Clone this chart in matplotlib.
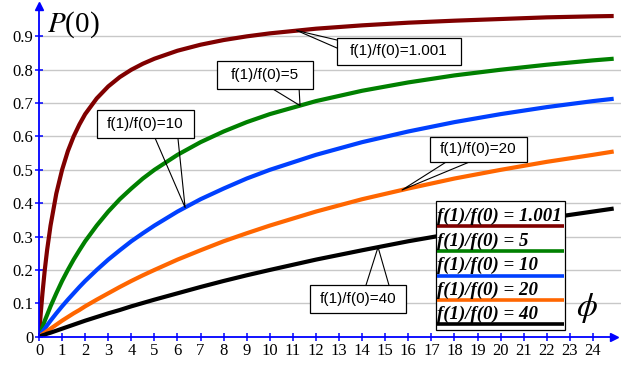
import numpy as np
import matplotlib
matplotlib.use("Agg")
import matplotlib.pyplot as plt
from matplotlib.patches import Rectangle

# ---------------- data ----------------
phi = [0, 0.05, 0.1, 0.15, 0.25, 0.35, 0.5, 0.75, 1, 1.25, 1.5, 1.75, 2, 2.5,
       3, 3.5, 4, 4.5, 5, 6, 7, 8, 9, 10, 12, 14, 16, 18, 20, 22, 24, 24.9]
ratio_labels = ["1.001", "5", "10", "20", "40"]
p_r1001 = [0, 0.048, 0.09, 0.13, 0.2, 0.259, 0.333, 0.429, 0.5, 0.556, 0.6,
           0.636, 0.667, 0.714, 0.75, 0.778, 0.8, 0.818, 0.833, 0.857, 0.875,
           0.889, 0.9, 0.909, 0.923, 0.933, 0.941, 0.947, 0.952, 0.957, 0.96,
           0.961]
p_r5 = [0, 0.01, 0.02, 0.029, 0.048, 0.065, 0.091, 0.13, 0.167, 0.2, 0.231,
        0.259, 0.286, 0.333, 0.375, 0.412, 0.444, 0.474, 0.5, 0.545, 0.583,
        0.615, 0.643, 0.667, 0.706, 0.737, 0.762, 0.783, 0.8, 0.815, 0.828,
        0.833]
p_r10 = [0, 0.005, 0.01, 0.015, 0.024, 0.034, 0.048, 0.07, 0.091, 0.111, 0.13,
         0.149, 0.167, 0.2, 0.231, 0.259, 0.286, 0.31, 0.333, 0.375, 0.412,
         0.444, 0.474, 0.5, 0.545, 0.583, 0.615, 0.643, 0.667, 0.688, 0.706,
         0.713]
p_r20 = [0, 0.0025, 0.005, 0.0075, 0.012, 0.017, 0.024, 0.036, 0.048, 0.059,
         0.07, 0.08, 0.091, 0.111, 0.13, 0.149, 0.167, 0.184, 0.2, 0.231, 0.259,
         0.286, 0.31, 0.333, 0.375, 0.412, 0.444, 0.474, 0.5, 0.524, 0.545,
         0.555]
p_r40 = [0, 0.001, 0.0025, 0.004, 0.006, 0.009, 0.012, 0.018, 0.024, 0.03,
         0.036, 0.042, 0.048, 0.059, 0.07, 0.08, 0.091, 0.101, 0.111, 0.13,
         0.149, 0.167, 0.184, 0.2, 0.231, 0.259, 0.286, 0.31, 0.333, 0.355,
         0.375, 0.384]
series = [p_r1001, p_r5, p_r10, p_r20, p_r40]
colors = ["#800000", "#008000", "#0040ff", "#ff6600", "#000000"]

x_ticks = list(range(0, 25))
y_ticks = [0, 0.1, 0.2, 0.3, 0.4, 0.5, 0.6, 0.7, 0.8, 0.9]
y_tick_labels = ["0", "0.1", "0.2", "0.3", "0.4", "0.5", "0.6", "0.7", "0.8", "0.9"]

# callouts: (series index, phi where pointer touches, box centre x, box centre y,
#            box width, box height, base x1, base x2, base y)
callouts = [
    (0, 11.18, 15.60, 0.855, 5.37, 0.081, 12.91, 12.91, None),
    (1, 11.31, 9.79, 0.784, 4.16, 0.084, 10.14, 11.27, 0.742),
    (2, 6.33, 4.61, 0.637, 4.20, 0.084, 5.03, 6.02, 0.595),
    (3, 15.73, 19.04, 0.561, 4.20, 0.075, 17.63, 18.63, 0.523),
    (4, 14.69, 13.82, 0.113, 4.16, 0.084, 14.17, 15.16, 0.155),
]

# ---------------- figure ----------------
W, H = 624, 367
fig = plt.figure(figsize=(W / 100, H / 100), dpi=100)
x0px, y0px = 39, 30.3
xmax, ymax = 25.2, 0.995
pxx, pxy = 23.08, 333.7
ax = fig.add_axes([x0px / W, y0px / H, xmax * pxx / W, ymax * pxy / H])
ax.set_xlim(0, xmax)
ax.set_ylim(0, ymax)

serif = "Liberation Serif"
plt.rcParams["mathtext.fontset"] = "stix"

for yv in y_ticks[1:]:
    ax.axhline(yv, color="#c8c8c8", lw=1.0, zorder=1)

for s, c in zip(series, colors):
    ax.plot(phi, s, color=c, lw=3.0, solid_capstyle="butt",
            solid_joinstyle="round", zorder=3)

# axes styling
for sp in ["top", "right"]:
    ax.spines[sp].set_visible(False)
for sp in ["left", "bottom"]:
    ax.spines[sp].set_color("#0000ff")
    ax.spines[sp].set_linewidth(1.3)
    ax.spines[sp].set_zorder(5)
ax.spines["bottom"].set_bounds(0, 24.9)
ax.plot([24.9], [0], marker=">", color="#0000ff", ms=6, clip_on=False, zorder=6)
ax.plot([0], [ymax - 0.004], marker="^", color="#0000ff", ms=6, clip_on=False, zorder=6)

ax.set_xticks(x_ticks)
ax.set_xticklabels([str(v) for v in x_ticks], fontfamily=serif, fontsize=12)
ax.set_yticks(y_ticks)
ax.set_yticklabels(y_tick_labels, fontfamily=serif, fontsize=12)
ax.tick_params(axis="both", direction="inout", length=6, width=1.1,
               color="#0000ff", labelcolor="black")
ax.tick_params(axis="x", pad=1.5)
ax.tick_params(axis="y", pad=1)

# callouts
for idx, ph, bx, by, bw, bh, b1, b2, base_y in callouts:
    tip_y = np.interp(ph, phi, series[idx])
    lab = "f(1)/f(0)=" + ratio_labels[idx]
    if base_y is None:
        lx = bx - bw / 2
        ax.plot([ph, lx], [tip_y, by + 0.034], color="black", lw=0.8, zorder=7)
        ax.plot([ph, lx], [tip_y, by + 0.010], color="black", lw=0.8, zorder=7)
    else:
        ax.plot([b1, ph, b2], [base_y, tip_y, base_y], color="black", lw=0.8, zorder=7)
    ax.add_patch(Rectangle((bx - bw / 2, by - bh / 2), bw, bh, fc="white",
                           ec="black", lw=0.9, zorder=8))
    ax.text(bx, by, lab, ha="center", va="center", fontsize=11,
            fontfamily="Liberation Sans", zorder=9)

# legend (drawn by hand)
lg_left, lg_right = 17.2, 22.79
lg_top, lg_bottom = 0.4067, 0.020
ax.add_patch(Rectangle((lg_left, lg_bottom), lg_right - lg_left, lg_top - lg_bottom,
                       fc="white", ec="black", lw=0.9, zorder=10))
line_px = [226, 251, 275.5, 300, 324]
for i, (lab, c) in enumerate(zip(ratio_labels, colors)):
    ly = (336.7 - line_px[i]) / pxy
    ax.plot([lg_left + 0.03, lg_right - 0.06], [ly, ly], color=c, lw=2.6,
            solid_capstyle="butt", zorder=11)
    ax.text(lg_left + 0.04, ly + 0.016, "f(1)/f(0) = " + lab, ha="left",
            va="baseline", fontsize=13.6, fontfamily=serif, fontweight="bold",
            fontstyle="italic", zorder=12)

fig.text(73 / W, 1 - 25 / H, r"$P$(0)", ha="center", va="center",
         fontsize=21, fontfamily=serif)
fig.text(587 / W, 1 - 308 / H, r"$\phi$", ha="center", va="center", fontsize=24)

fig.savefig("out.png", dpi=100)
